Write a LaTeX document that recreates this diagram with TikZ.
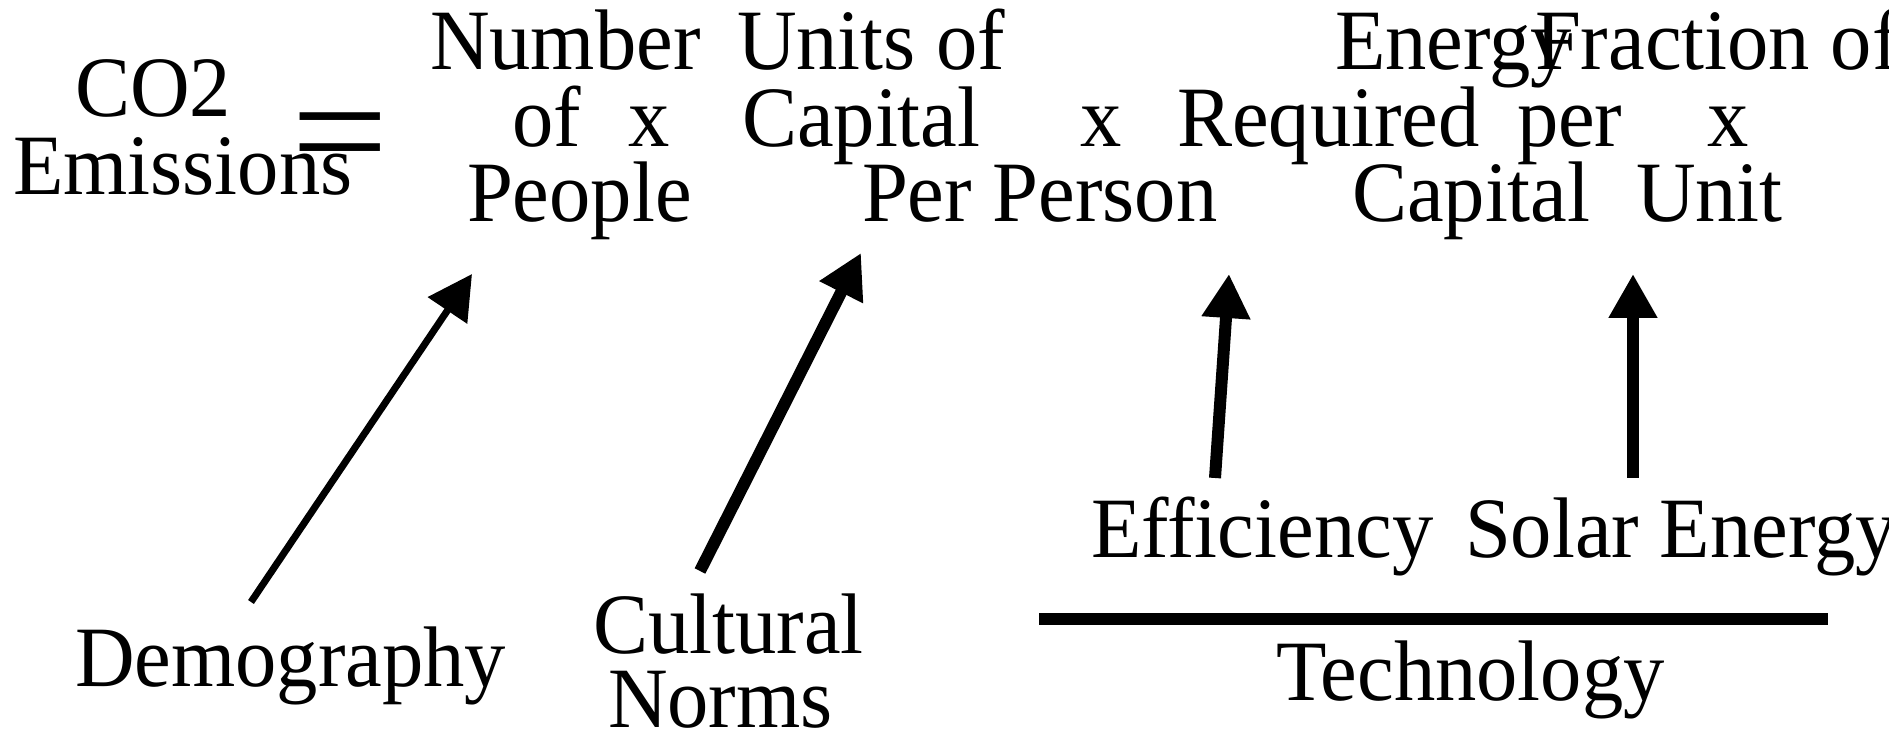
\documentclass[tikz,border=0pt]{standalone}
\usepackage{fontspec}
\setmainfont{Liberation Serif}[FakeStretch=0.96]
\usetikzlibrary{arrows.meta}
\tikzset{
  lbl/.style={anchor=base west, inner sep=0pt, outer sep=0pt, font=\fontsize{43pt}{38pt}\selectfont},
  thinarrow/.style={line width=3.5pt, -{Triangle[length=22pt,width=23pt]}},
  thickarrow/.style={line width=6pt, -{Triangle[length=22pt,width=23pt]}},
  techbar/.style={line width=5.75pt}
}
\begin{document}
\begin{tikzpicture}[x=0.5pt,y=-0.5pt]
\useasboundingbox (0,0) rectangle (1889,731);
\clip (0,0) rectangle (1889,731);
% left side
\node[lbl] (co2) at (75,117) {CO2};
\node[lbl] (emis) at (13,195) {Emissions};
\node[lbl] (eq) at (291,184) {\scalebox{2.09}[1.8]{=}};
% row 1
\node[lbl] (number) at (430,70) {Number};
\node[lbl] (units) at (737,70) {Units of};
\node[lbl] (energy) at (1335,70) {Energy};
\node[lbl] (fraction) at (1535,70) {Fraction of};
% row 2
\node[lbl] (of) at (512,147) {of};
\node[lbl] (x1) at (628,147) {x};
\node[lbl] (capital) at (742,147) {Capital};
\node[lbl] (x2) at (1080,147) {x};
\node[lbl] (required) at (1177,147) {Required};
\node[lbl] (per) at (1517,147) {per};
\node[lbl] (x3) at (1707,147) {x};
% row 3
\node[lbl] (people) at (467,222) {People};
\node[lbl] (perperson) at (862,222) {Per Person};
\node[lbl] (capital2) at (1352,222) {Capital};
\node[lbl] (unit) at (1636,222) {Unit};
% bottom
\node[lbl] (efficiency) at (1091,558) {Efficiency};
\node[lbl] (solar) at (1465,558) {Solar Energy};
\node[lbl] (technology) at (1276,700) {Technology};
\node[lbl] (demography) at (75,686) {Demography};
\node[lbl] (cultural) at (593,653) {Cultural};
\node[lbl] (norms) at (608,727) {Norms};
% arrow end points
\coordinate (d1) at (251,602);
\coordinate (d2) at (472,274);
\coordinate (c1) at (700,571);
\coordinate (c2) at (861,253);
\coordinate (e1) at (1215,478);
\coordinate (e2) at (1229,274);
\coordinate (s1) at (1633,478);
\coordinate (s2) at (1633,274);
\coordinate (b1) at (1039,619);
\coordinate (b2) at (1828,619);
\draw[thinarrow] (d1) -- (d2);
\draw[thickarrow] (c1) -- (c2);
\draw[thickarrow] (e1) -- (e2);
\draw[thickarrow] (s1) -- (s2);
\draw[techbar] (b1) -- (b2);
\end{tikzpicture}
\end{document}
